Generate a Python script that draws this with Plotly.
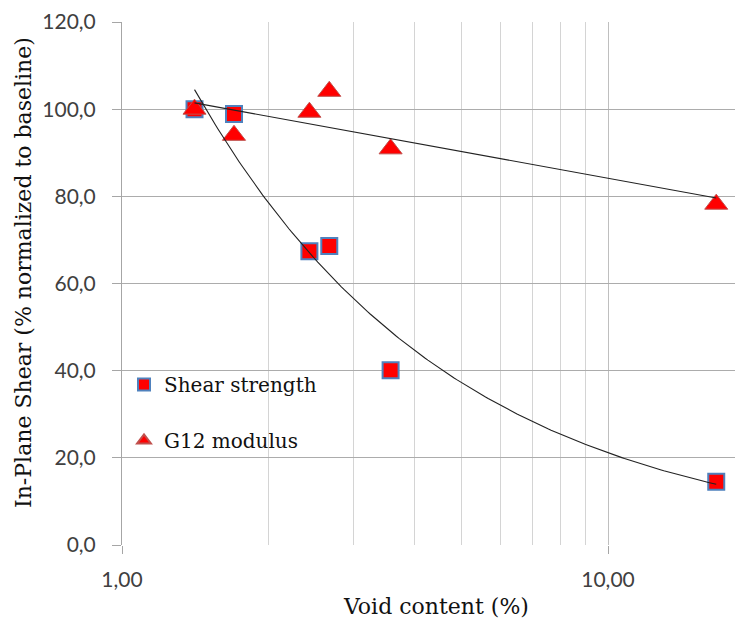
import numpy as np
import plotly.graph_objects as go

# ---- data ----
void_content = [1.41, 1.70, 2.43, 2.67, 3.57, 16.7]
shear_strength = [100.0, 98.9, 67.4, 68.6, 40.1, 14.5]
g12_modulus = [100.0, 94.0, 99.3, 104.1, 90.9, 78.2]

series_names = ["Shear strength", "G12 modulus"]
x_title = "Void content (%)"
y_title = "In-Plane Shear (% normalized to baseline)"
x_major_ticks = [1, 10]
x_minor_ticks = [2, 3, 4, 5, 6, 7, 8, 9]
y_ticks = [0, 20, 40, 60, 80, 100, 120]

# ---- trendlines (Excel-style fits computed from the data) ----
x_arr = np.array(void_content)
lx = np.log(x_arr)
# power fit for shear strength: y = a * x^b
b_pow, ln_a = np.polyfit(lx, np.log(np.array(shear_strength)), 1)
# logarithmic fit for G12: y = c * ln(x) + d
c_log, d_log = np.polyfit(lx, np.array(g12_modulus), 1)
x_fit = np.exp(np.linspace(lx.min(), lx.max(), 200))
shear_fit = np.exp(ln_a) * x_fit ** b_pow
g12_fit = c_log * np.log(x_fit) + d_log

SERIF = "DejaVu Serif"
SANS = "Lato"

fig = go.Figure()
fig.add_trace(go.Scatter(
    x=void_content, y=shear_strength, mode="markers", name=series_names[0],
    legendgroup="a",
    marker=dict(symbol="square", size=16, color="#ff0000",
                line=dict(color="#4f81bd", width=2)),
))
fig.add_trace(go.Scatter(
    x=void_content, y=g12_modulus, mode="markers", name=series_names[1],
    legendgroup="b",
    marker=dict(symbol="triangle-up", size=20, color="#ff0000",
                line=dict(color="#c0504d", width=1)),
))
fig.add_trace(go.Scatter(
    x=x_fit, y=shear_fit, mode="lines", showlegend=False, hoverinfo="skip",
    line=dict(color="#222222", width=1.1),
))
fig.add_trace(go.Scatter(
    x=x_fit, y=g12_fit, mode="lines", showlegend=False, hoverinfo="skip",
    line=dict(color="#222222", width=1.1),
))

# the page body has an 8px margin, so the figure is offset by 8px
OFF = 8
W, H = 743 - OFF, 626 - OFF
L = 122 - OFF
T = 22 - OFF
B = 626 - 545
plot_w = W - L
plot_h = H - T - B
decade_px = 486.0


def px_x(xp):
    return (xp - OFF - L) / plot_w


def px_y(yp):
    return (545 - yp) / plot_h


fig.update_layout(
    width=W, height=H,
    margin=dict(l=L, r=0, t=T, b=B, pad=0),
    paper_bgcolor="white", plot_bgcolor="white",
    separators=", ",
    showlegend=True,
    legend=dict(
        x=px_x(124), y=px_y(365),
        xanchor="left", yanchor="top",
        bgcolor="rgba(0,0,0,0)",
        font=dict(family=SERIF, size=20, color="#111111"),
        traceorder="grouped", tracegroupgap=27,
        itemsizing="constant",
    ),
    xaxis=dict(
        type="log",
        range=[0, plot_w / decade_px],
        tickvals=x_major_ticks,
        tickformat=".2f",
        ticks="outside", ticklen=8, tickcolor="#a6a6a6",
        ticklabelstandoff=8,
        tickfont=dict(family=SANS, size=21, color="#404040"),
        showgrid=True, gridcolor="#bfbfbf", gridwidth=1,
        minor=dict(tickvals=x_minor_ticks, showgrid=True,
                   gridcolor="#d4d4d4", gridwidth=1, ticks=""),
        showline=False, zeroline=False,
    ),
    yaxis=dict(
        range=[0, 120],
        tickvals=y_ticks,
        tickformat=".1f",
        ticks="outside", ticklen=9, tickcolor="#a6a6a6",
        ticklabelstandoff=12,
        tickfont=dict(family=SANS, size=21, color="#404040"),
        showgrid=True, gridcolor="#acacac", gridwidth=1,
        showline=True, linecolor="#a6a6a6", linewidth=1,
        zeroline=False,
    ),
    annotations=[
        dict(text=x_title, xref="paper", yref="paper",
             x=px_x(436), y=px_y(606),
             xanchor="center", yanchor="middle", showarrow=False,
             font=dict(family=SERIF, size=22, color="#111111")),
        dict(text=y_title, xref="paper", yref="paper",
             x=px_x(23), y=px_y(273),
             xanchor="center", yanchor="middle", showarrow=False,
             textangle=-90,
             font=dict(family=SERIF, size=22, color="#111111")),
    ],
)

fig.write_html("out.html")
